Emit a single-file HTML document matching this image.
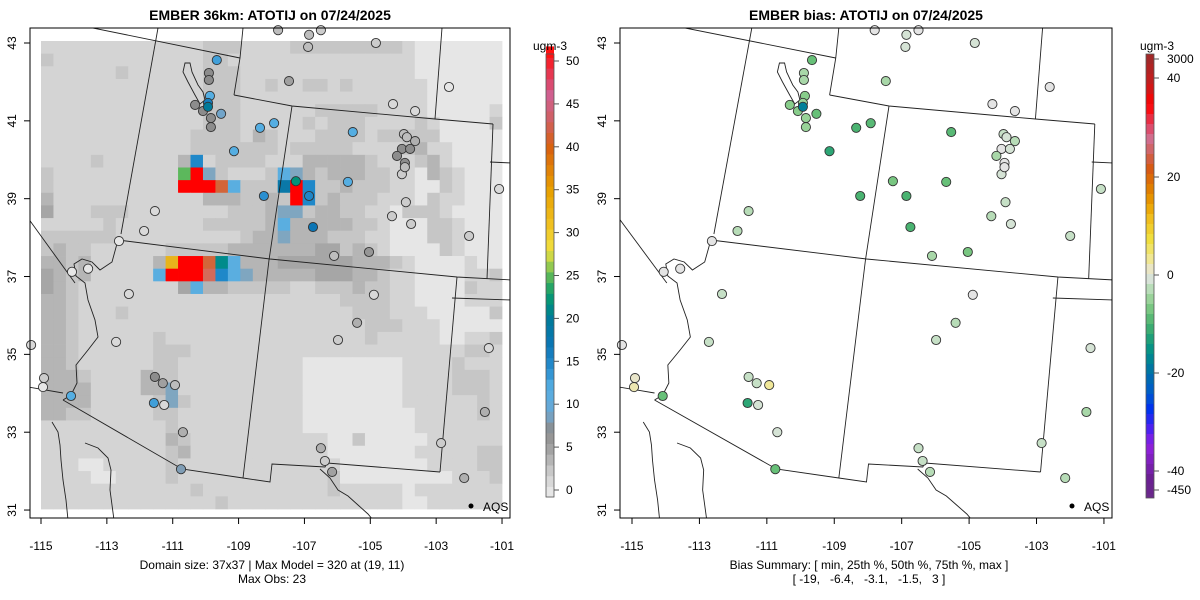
<!DOCTYPE html>
<html><head><meta charset="utf-8">
<style>
html,body{margin:0;padding:0;background:#fff;}
svg{display:block;font-family:"Liberation Sans",Arial,sans-serif;}
</style></head>
<body>
<svg id="chart" width="1200" height="600" viewBox="0 0 1200 600" xmlns="http://www.w3.org/2000/svg">
<defs>
<clipPath id="clipL"><rect x="30" y="28" width="480" height="490"/></clipPath>
<clipPath id="clipR"><rect x="620" y="28" width="492" height="490"/></clipPath>
</defs>
<text x="270" y="20" text-anchor="middle" font-size="14" font-weight="bold">EMBER 36km: ATOTIJ on 07/24/2025</text>
<text x="866" y="20" text-anchor="middle" font-size="14" font-weight="bold">EMBER bias: ATOTIJ on 07/24/2025</text>
<g id="gridL" clip-path="url(#clipL)"></g>
<g id="bordersL" clip-path="url(#clipL)"></g>
<g id="bordersR" clip-path="url(#clipR)"></g>
<g id="ptsL"></g>
<g id="ptsR"></g>
<rect x="30" y="28" width="480" height="490" fill="none" stroke="#000"/>
<rect x="620" y="28" width="492" height="490" fill="none" stroke="#000"/>
<g id="axes" font-size="12"></g>
<g><circle cx="471" cy="506" r="2.5" fill="#000"/><text x="483" y="511" font-size="12">AQS</text></g>
<g><circle cx="1072" cy="506" r="2.5" fill="#000"/><text x="1084" y="511" font-size="12">AQS</text></g>
<text x="272" y="569" text-anchor="middle" font-size="12">Domain size: 37x37 | Max Model = 320 at (19, 11)</text>
<text x="272" y="583" text-anchor="middle" font-size="12">Max Obs: 23</text>
<text x="869" y="569" text-anchor="middle" font-size="12">Bias Summary: [ min, 25th %, 50th %, 75th %, max ]</text>
<text x="869" y="583" text-anchor="middle" font-size="12" xml:space="preserve">[ -19,   -6.4,   -3.1,   -1.5,   3 ]</text>
<g id="cbL" font-size="12"></g>
<g id="cbR" font-size="12"></g>
</svg>
<script>
const NS="http://www.w3.org/2000/svg";
// ---- data ----
const gridRows=[
"bbbbbbbbbbbbbcccbbbbcccccccccbaaaaaaa",
"cbbbbbbbbbbbbccbbbbbbbbbbbbbbbaaaaaaa",
"bbbbbbcbbbbbbcccbbbbbbbbbbbbbbaaaaaaa",
"bbbbbbbbbbbbbcccbbcbbccbcbbbbbbaaaaaa",
"bbbbbbbbbbbbbcccbbbbbbbbbbbbbbbaaaaaa",
"bbbbbbbbbbbbbcccbbbbbbcccccbbbbaaaaab",
"bbbbbbbbbbbbbcccbbbbbcbcccbbbbcbaaaac",
"bbbbbbbbbbbbccccbdcbbbccccbcccccaaaaa",
"bbbbbbbbbbbbcccccccbcccccbbbbcdbbaaaa",
"bbbbcbbbbbbdBbccccbbbdddddcbbbcdbaaaa",
"cbbbbbbbbbbGRScbbbcLSdcdddccbbadcbaaa",
"cbbbbbbbbbbRRROLcccKRBccdcccbbaacbaaa",
"dbbbbbbbbbbbbdddccdcRBcdcccbbbacbbaaa",
"ebbbcccbbbbbbbbcccdSScddccbbacccbaaaa",
"bbbbbcbbbbbbbcccccdLdddddccbaaaccbaaa",
"ccccccbbbbbbbbbbcddSdddcccbbaaaccbaaa",
"cdccbbbbbbcccccdddddddeecdcbaaaacbaaa",
"ddcdbbbbbdYRROTLdddeeeeeedddcbaaaabaa",
"edcdbbbbbLRRRPBLSdddddeeeddcbbaaaabbc",
"edcbbbbbbbbeLddcccccbbcccdccbbaaaacbb",
"ddcbbbbbbbbbbbbbbbbbbbbbccccbbaaaabbb",
"ddcbbbcbbbbbbbbbbbbbbbbbbcccbbbaaaaac",
"ddcbbbbbbbbbbbbbbbbbbbbbbbcccbbbaaaaa",
"ddcbbbbbbcbbbbbbbbbbbbbbbbcbbbbbaabbc",
"ddcbbbbbbcccbbbbbbbbbbbbbbbbbbbbbbccb",
"ddcbbbbbbccbbbbbbbbbbaaaaaaaabbbbcbbb",
"dddcbbbbdccbbbbbbbbbbaaaaaaaabbbbcccb",
"ddddbbbbddSbbbbbbbbbbaaaaaaaabbbbcccb",
"ddddbbbbbcScbbbbbbbbbaaaaaaaabbbbbbcb",
"ddccbbbbbccbbbbbbbbbbaaaaaaaaabbbbbcb",
"bbbbbbbbbbcbbbbbbbbbbaaaaaaaaabbbbbbb",
"bbbbbbbbbbdcbbbbbbbbbbbaacaaaaabbbbbb",
"bbbbbbbbbbcdbbbbbbbbbbbaaaaaaabbbbbcc",
"bbbaabbbbbcbbbbbbbbbbbbbaaaaaaabbbbcc",
"bbbbaabbbbcbbbbbbbbbbbbcaaaaaaaaabbbc",
"bbbbbbbbbbbbcbbbbbbbbbbcbbbbbabbbbbbb",
"bbbbbbbbbbbbbbcbbbbbbbbbbbbbbaabbbbbb"];
const cellColors={a:"#e6e6e6",b:"#d4d4d4",c:"#c6c6c6",d:"#b5b5b5",e:"#a6a6a6",R:"#ff0000",B:"#1f88c9",L:"#5aaee0",S:"#7fa6c0",G:"#5cb85c",O:"#d2653a",Y:"#e8b41c",T:"#008b8b",K:"#0a78a8",P:"#d46a5a"};
const stLon=[-107.8,-106.86,-106.5,-106.89,-104.83,-107.47,-109.66,-109.9,-109.9,-109.87,-109.93,-110.32,-110.08,-109.93,-109.84,-109.53,-109.84,-108.35,-107.92,-104.31,-103.64,-102.61,-101.09,-103.92,-104.34,-103.76,-102.0,-105.04,-106.1,-111.54,-111.87,-112.63,-114.06,-113.57,-103.98,-103.89,-103.64,-104.04,-103.79,-104.19,-103.95,-104.04,-103.95,-105.53,-105.68,-109.14,-108.23,-106.86,-106.74,-107.26,-112.33,-104.89,-105.4,-105.98,-101.4,-112.72,-115.3,-114.91,-114.94,-114.09,-111.54,-111.3,-110.93,-111.57,-111.26,-110.69,-110.75,-106.5,-106.38,-106.16,-101.52,-102.85,-102.15];
const stLat=[43.33,43.21,43.33,42.9,43.0,42.02,42.56,42.23,42.05,41.64,41.46,41.41,41.25,41.36,41.07,41.18,40.84,40.82,40.94,41.43,41.25,41.87,39.25,38.91,38.55,38.35,38.04,37.63,37.53,38.68,38.17,37.91,37.12,37.2,40.66,40.58,40.48,40.28,40.28,40.1,39.92,39.63,39.81,40.71,39.43,40.22,39.07,39.07,38.27,39.45,36.55,36.53,35.81,35.37,35.16,35.32,35.24,34.39,34.16,33.93,34.42,34.26,34.21,33.75,33.7,33.0,32.05,32.59,32.26,31.98,33.52,32.72,31.82];
const stObs=[3,3,2,3,2,5,13,7,7,12,16,7,7,20,7,9,7,12,12,1,1,0,1,2,2,2,2,6,3,1,1,0,0,0,3,3,4,7,7,7,7,2,3,12,12,12,14,15,17,22,1,1,4,2,1,1,1,2,0,12,7,5,3,13,1,4,8,4,2,5,4,2,4];
const stBias=[0,-1,0,-1,-1,-4,-8,-4,-4,-6,-5,-6,-6,-18,-5,-8,-5,-10,-9,0,0,0,-2,-2,-3,-1,-2,-7,-4,-3,-3,0,0,0,-2,-1,-3,0,-1,-4,0,-1,0,-9,-8,-12,-10,-10,-10,-7,-2,0,-3,-2,-1,-2,0,1,2,-8,-2,-2,3,-12,-1,-1,-8,-2,-2,-3,-4,-2,-3];
const lonTicks=[-115,-113,-111,-109,-107,-105,-103,-101];
const latTicks=[43,41,39,37,35,33,31];
const obsTicks=[0,5,10,15,20,25,30,35,40,45,50];
const biasTickLabels=["3000","40","20","0","-20","-40","-450"];
// ---- scales ----
const xL=lon=>41+(lon+115)*32.93;
const xR=lon=>632+(lon+115)*33.71;
const yM=lat=>43+(43-lat)*38.92;
const yObs=v=>490-v*8.58;
const yBias=v=>275-v*4.9;
function hex(c){return [parseInt(c.substr(1,2),16),parseInt(c.substr(3,2),16),parseInt(c.substr(5,2),16)];}
function interp(stops,v){
  if(v<=stops[0][0])return stops[0][1];
  for(let i=1;i<stops.length;i++){if(v<=stops[i][0]){const a=stops[i-1],b=stops[i];const t=(v-a[0])/(b[0]-a[0]);const c1=hex(a[1]),c2=hex(b[1]);return "rgb("+c1.map((q,k)=>Math.round(q+(c2[k]-q)*t)).join(",")+")";}}
  return stops[stops.length-1][1];
}
const obsStops=[[-1,"#e8e8e8"],[0,"#e6e6e6"],[2,"#cccccc"],[5,"#a0a0a0"],[7,"#8c8c8c"],[8,"#7f9db5"],[10,"#62aadc"],[12,"#55aee2"],[14,"#2a8fd0"],[17,"#0b75b5"],[20,"#007a9a"],[22,"#00927a"],[24,"#30aa60"],[26,"#90c850"],[28,"#f0e040"],[31,"#f0c020"],[35,"#e8a000"],[40,"#d86010"],[43,"#d06060"],[46,"#d06090"],[48,"#e04060"],[51,"#ff1010"]];
// bias stops in pixel y of bar (top 54 to bottom 498)
const biasStops=[[54,"#9b2a2a"],[85,"#c81c1c"],[105,"#ff0000"],[125,"#e04060"],[140,"#d07090"],[155,"#d06050"],[170,"#d85a10"],[190,"#e08000"],[205,"#eaa000"],[220,"#f0c020"],[240,"#f0e040"],[262,"#f0e8a0"],[275,"#e4e4e4"],[283,"#cce2cc"],[292,"#b0dab0"],[302,"#90d090"],[314,"#68c078"],[326,"#44b070"],[338,"#20a078"],[352,"#009088"],[373,"#0070a8"],[395,"#0058d0"],[410,"#0030f0"],[430,"#5020f0"],[445,"#9020e0"],[480,"#6a2090"],[498,"#6a2a8a"]];
function mk(tag,attrs,parent){const e=document.createElementNS(NS,tag);for(const k in attrs)e.setAttribute(k,attrs[k]);parent.appendChild(e);return e;}
// ---- grid ----
const gG=document.getElementById("gridL");
const cw=461/37,ch=468/37;
gridRows.forEach((row,j)=>{for(let i=0;i<37;i++){const c=row[i]||"b";
  const r=mk("rect",{x:(41+i*cw).toFixed(2),y:(41+j*ch).toFixed(2),width:(cw+0.4).toFixed(2),height:(ch+0.4).toFixed(2),fill:cellColors[c]},gG);
  
  
}});
// ---- borders ----
const borderPaths=[
"M93,28 L240,58","M243,28 L240,58 L234,95","M234,95 L292,106 L435,119 L493,124","M442,28 L435,119",
"M158,28 L121,234","M292,106 L269,260 L243,478","M118,240 L270,259 L457,277 L512,280",
"M493,124 L487,279","M490,162 L512,163","M457,277 L440,472","M452,298 L512,300",
"M440,472 L327,463 L325,467 L272,464 L270,482 L243,478 L182,469 L63,400",
"M320,469 L330,478 L338,490 L348,496 L358,505 L368,514 L373,520",
"M28,218 L75,283",
"M118,240 L112,262 L100,270 L92,262 L82,259 L74,264 L76,276 L85,283 L88,300 L95,320 L98,337 L88,350 L76,365 L77,383 L71,395 L63,400",
"M28,387 L63,393",
"M52,422 L58,432 L60,445 L61,460 L63,480 L66,500 L68,520",
"M85,443 L98,448 L108,458 L111,470 L110,490 L114,520",
"M185,63 L190,63 L192,72 L198,85 L203,92 L205,100 L200,104 L195,95 L188,82 L183,72 Z"];
const bL=document.getElementById("bordersL"),bR=document.getElementById("bordersR");
const gRt=mk("g",{transform:"translate(632,0) scale(1.0239,1) translate(-41,0)"},bR);
borderPaths.forEach(d=>{
  const p1=mk("path",{d:d,fill:"none",stroke:"#222","stroke-width":"0.9"},bL);
  
  
  const p2=mk("path",{d:d,fill:"none",stroke:"#222","stroke-width":"0.9","vector-effect":"non-scaling-stroke"},gRt);
  
  
});
// ---- stations ----
const pL=document.getElementById("ptsL"),pR=document.getElementById("ptsR");
for(let i=0;i<stLon.length;i++){
  const c1=mk("circle",{cx:xL(stLon[i]).toFixed(1),cy:yM(stLat[i]).toFixed(1),r:4.6,fill:interp(obsStops,stObs[i]),stroke:"#333","stroke-width":"0.9"},pL);
  
  
  const c2=mk("circle",{cx:xR(stLon[i]).toFixed(1),cy:yM(stLat[i]).toFixed(1),r:4.6,fill:interp(biasStops,Math.max(54,Math.min(498,yBias(stBias[i])))),stroke:"#333","stroke-width":"0.9"},pR);
  
  
}
// ---- axes ----
const ax=document.getElementById("axes");
lonTicks.forEach(v=>{
  [[xL(v)],[xR(v)]].forEach(([x])=>{
    const t=mk("line",{x1:x,x2:x,y1:518,y2:524,stroke:"#000"},ax);
    
    
    const l=mk("text",{x:x,y:550,"text-anchor":"middle"},ax);l.textContent=v;
    
    
  });
});
latTicks.forEach(v=>{
  const y=yM(v);
  [[30,16],[620,606]].forEach(([bx,lx])=>{
    const t=mk("line",{x1:bx-6,x2:bx,y1:y,y2:y,stroke:"#000"},ax);
    
    
    const l=mk("text",{x:lx,y:y,"text-anchor":"middle",transform:"rotate(-90 "+lx+" "+y+")"},ax);l.textContent=v;
    
    
  });
});
// ---- colorbars ----
const cbL=document.getElementById("cbL");
for(let v=-0.8;v<50.8;v+=1.25){
  const r=mk("rect",{x:546,y:yObs(v+1.25).toFixed(1),width:8,height:11.5,fill:interp(obsStops,v+0.6)},cbL);
  
  
}
mk("rect",{x:546,y:54,width:8,height:443,fill:"none",stroke:"#555","stroke-width":"0.8"},cbL);
const uL=mk("text",{x:550,y:50,"text-anchor":"middle"},cbL);uL.textContent="ugm-3";


obsTicks.forEach(v=>{
  const y=yObs(v);
  mk("line",{x1:554,x2:559,y1:y,y2:y,stroke:"#555"},cbL);
  const l=mk("text",{x:566,y:y+4},cbL);l.textContent=v;
  
  
});
const cbR=document.getElementById("cbR");
for(let y=54;y<498;y+=10){
  const r=mk("rect",{x:1146,y:y,width:8,height:Math.min(10.5,498-y),fill:interp(biasStops,y+5)},cbR);
  
  
}
mk("rect",{x:1146,y:54,width:8,height:444,fill:"none",stroke:"#555","stroke-width":"0.8"},cbR);
const uR=mk("text",{x:1157,y:50,"text-anchor":"middle"},cbR);uR.textContent="ugm-3";


const biasTickY=[59,78,177,275,373,471,490];
biasTickLabels.forEach((s,i)=>{
  const y=biasTickY[i];
  mk("line",{x1:1154,x2:1159,y1:y,y2:y,stroke:"#555"},cbR);
  const l=mk("text",{x:1167,y:y+4},cbR);l.textContent=s;
  
  
});
</script>
</body></html>
